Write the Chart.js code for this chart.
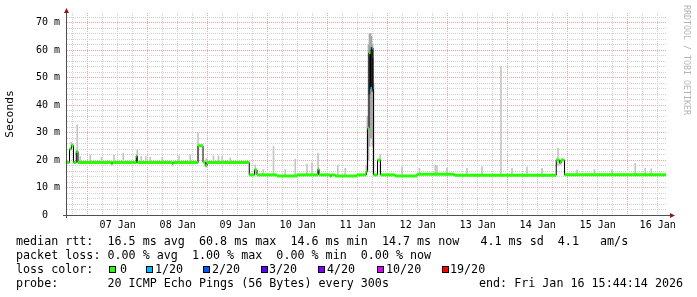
<!DOCTYPE html>
<html><head><meta charset="utf-8">
<script src="https://cdn.jsdelivr.net/npm/chart.js@4/dist/chart.umd.min.js"></script>
<style>
html,body{margin:0;padding:0;background:#fff;}
#wrap{position:relative;width:697px;height:297px;overflow:hidden;background:#fff;}
#c{position:absolute;left:0;top:0;}
.t{position:absolute;font-family:"DejaVu Sans Mono",monospace;font-size:11.7px;line-height:14px;white-space:pre;color:#000;}
.sq{position:absolute;width:5px;height:5px;border:1px solid #000;}
#rrd{position:absolute;left:682px;top:5px;writing-mode:vertical-rl;font-family:"DejaVu Sans Mono",monospace;font-size:8.3px;line-height:10px;color:#b4b4b4;white-space:pre;}
</style></head><body>
<div id="wrap">
<canvas id="c" width="697" height="297"></canvas>
<div id="rrd">RRDTOOL / TOBI OETIKER</div>
<div class="t" style="left:16px;top:234px">median rtt:  16.5 ms avg  60.8 ms max  14.6 ms min  14.7 ms now   4.1 ms sd  4.1   am/s</div>
<div class="t" style="left:16px;top:248px">packet loss: 0.00 % avg  1.00 % max  0.00 % min  0.00 % now</div>
<div class="t" style="left:16px;top:262px">loss color:</div>
<div id="losslegend"></div>
<div class="t" style="left:16px;top:276px">probe:       20 ICMP Echo Pings (56 Bytes) every 300s</div>
<div class="t" style="left:479px;top:276px">end: Fri Jan 16 15:44:14 2026</div>
</div>
<script>
// ---------- data (hours since Jan 6 15:44:14) ----------
const dayLabels = ['07 Jan','08 Jan','09 Jan','10 Jan','11 Jan','12 Jan','13 Jan','14 Jan','15 Jan','16 Jan'];
const firstGridHour = 2.2667; // Jan 6 18:00

// median rtt (ms) change points; value holds until next time
const medT = [0, 1.0, 1.8, 2.6, 3.7, 4.4, 17.8, 18.2, 27.7, 28.1, 42.1, 42.5, 52.4, 54.4, 55.3, 56.0,
  72.9, 75.0, 76.0, 84.0, 92.0, 100.4, 100.8, 105.3, 105.7, 107.3, 116.0, 119.7,
  120.2, 120.8, 121.4, 122.0, 122.4, 122.6, 124.2, 125.4, 131.3, 140.0, 155.0,
  195.7, 197.0, 197.6, 199.0, 239.6];
const medV = [19.1, 24.0, 25.3, 19.1, 23.1, 19.1, 18.6, 19.1, 21.5, 19.1, 18.6, 19.1, 25.2, 19.3, 17.9, 19.1,
  14.6, 16.4, 14.6, 14.2, 14.6, 16.7, 14.6, 14.1, 14.6, 14.2, 14.6, 15.8,
  31.6, 59.0, 46.0, 60.8, 45.6, 14.6, 20.0, 14.6, 14.2, 14.8, 14.5,
  20.0, 18.8, 20.0, 14.6, 14.6];
const medLoss = [0,0,0,0,0,0,0,0,0,0,0,0,0,0,0,0,
  0,0,0,0,0,0,0,0,0,0,0,0,
  0,0,1,1,0,0,0,0,0,0,0,
  0,0,0,0,0];

// smoke (ping spread) thin spikes
const smokeT  = [1.7, 4.1, 5.3, 9.3, 13.8, 18.8, 22.5, 28.1, 29.7, 31.5, 33.3, 38.1, 44.8, 49.3, 52.4, 55.7, 58.6, 60.6, 62.1, 65.3,
  75.3, 78.5, 82.6, 87.3, 91.3, 96.0, 98.0, 100.4, 108.3, 111.3, 119.7, 125.3, 134.0, 141.0, 147.3, 148.0, 152.0, 160.0, 166.0,
  173.6, 178.0, 184.0, 190.0, 196.4, 204.0, 211.0, 218.0, 227.3, 231.3, 233.7];
const smokeLo = [24, 19, 19, 19, 19, 19, 19, 19, 19, 19, 19, 19, 19, 19, 19, 18, 19, 19, 19, 19,
  14.6, 14.6, 14.6, 14.6, 14.6, 14.6, 14.6, 14.6, 14.6, 14.6, 14.6, 14.6, 14.6, 14.6, 14.6, 14.6, 14.6, 14.6, 14.6,
  14.6, 14.6, 14.6, 14.6, 18, 14.6, 14.6, 14.6, 14.6, 14.6, 14.6];
const smokeHi = [26.5, 32.8, 21.3, 21.9, 21.0, 21.8, 22.5, 23.7, 21.3, 21.2, 21.0, 21.0, 21.5, 21.9, 29.8, 20.5, 21.5, 21.5, 21.3, 20.8,
  18.2, 16.5, 24.9, 16.5, 20.3, 18.5, 19.0, 22.5, 18.2, 17.0, 18.0, 22.0, 17.5, 17.0, 18.2, 18.0, 17.0, 17.0, 17.5,
  54.0, 17.0, 17.5, 17.0, 24.3, 16.4, 16.5, 16.5, 18.8, 17.0, 16.8];

// 11 Jan burst: wide spread and dense core
const burstT  = [120.2, 120.6, 121.0, 121.4, 121.8, 122.2, 122.6];
const burstLo = [16, 20, 25, 28, 28, 25, 15];
const burstHi = [36, 62, 66, 66, 65, 62, 48];
const coreT  = [121.0, 121.4, 121.8, 122.2];
const coreLo = [44, 46, 46, 45];
const coreHi = [59, 60, 61, 57];

const lossLevels = [0, 1, 2, 3, 4, 10, 19];
const lossLabels = ['0', '1/20', '2/20', '3/20', '4/20', '10/20', '19/20'];
const lossColors = ['#26ff00', '#00b8ff', '#0059ff', '#5e00ff', '#7e00ff', '#dd00ff', '#ff0000'];

// ---------- legend squares ----------
const sqX = [109, 146, 203, 261, 318, 377, 442];
const lblX = [120, 155, 212, 269, 327, 386, 450];
const ll = document.getElementById('losslegend');
lossLabels.forEach((l, i) => {
  const s = document.createElement('div'); s.className = 'sq';
  s.style.left = sqX[i] + 'px'; s.style.top = '266px'; s.style.background = lossColors[i];
  ll.appendChild(s);
  const t = document.createElement('div'); t.className = 't';
  t.style.left = lblX[i] + 'px'; t.style.top = '262px'; t.textContent = l;
  ll.appendChild(t);
});

function lossColor(n) {
  let c = lossColors[0];
  lossLevels.forEach((lv, i) => { if (n >= lv) c = lossColors[i]; });
  return c;
}

// green runs (horizontal only)
const runPts = [];
for (let i = 0; i < medT.length - 1; i++) {
  runPts.push({x: medT[i], y: medV[i]}, {x: medT[i + 1], y: medV[i]}, {x: medT[i + 1], y: null});
}
const stepPts = medT.map((t, i) => ({x: t, y: medV[i]}));

const xTicks = [];
for (let v = firstGridHour; v <= 240; v += 6) xTicks.push(v);

const MINOR = 'rgba(208,208,208,1)';
const MAJOR = 'rgba(238,165,165,1)';
const MONO = 'DejaVu Sans Mono';

const axesPlugin = {
  id: 'rrdAxes',
  afterDatasetsDraw(chart) {
    const {ctx, chartArea: a} = chart;
    ctx.save();
    ctx.strokeStyle = '#505050';
    ctx.lineWidth = 1;
    ctx.beginPath();
    ctx.moveTo(a.left - 0.5, a.bottom + 3);
    ctx.lineTo(a.left - 0.5, a.top - 1);
    ctx.moveTo(a.left - 4, a.bottom + 0.5);
    ctx.lineTo(a.right + 4, a.bottom + 0.5);
    ctx.stroke();
    ctx.fillStyle = '#8b1a1a';
    ctx.beginPath();
    ctx.moveTo(a.left - 3, a.top);
    ctx.lineTo(a.left + 2, a.top);
    ctx.lineTo(a.left - 0.5, a.top - 5);
    ctx.closePath(); ctx.fill();
    ctx.beginPath();
    ctx.moveTo(a.right + 3, a.bottom - 2);
    ctx.lineTo(a.right + 3, a.bottom + 3);
    ctx.lineTo(a.right + 8, a.bottom + 0.5);
    ctx.closePath(); ctx.fill();
    ctx.restore();
  }
};

new Chart(document.getElementById('c'), {
  type: 'bar',
  data: {
    datasets: [
      {type: 'line', label: 'median', data: runPts, parsing: false, spanGaps: false, borderWidth: 3,
        borderCapStyle: 'butt', pointRadius: 0, order: 0, borderColor: lossColors[0],
        segment: {borderColor: c => lossColor(medLoss[Math.floor(c.p0DataIndex / 3)])}},
      {type: 'line', label: 'median step', data: stepPts, parsing: false, stepped: true, borderWidth: 1,
        borderColor: '#000', pointRadius: 0, order: 1},
      {label: 'core', data: coreT.map((t, i) => ({x: t, y: [coreLo[i], coreHi[i]]})), backgroundColor: '#444444',
        barThickness: 1, grouped: false, borderWidth: 0, order: 2},
      {label: 'burst', data: burstT.map((t, i) => ({x: t, y: [burstLo[i], burstHi[i]]})), backgroundColor: '#a8a8a8',
        barThickness: 1, grouped: false, borderWidth: 0, order: 3},
      {label: 'smoke', data: smokeT.map((t, i) => ({x: t, y: [smokeLo[i], smokeHi[i]]})), backgroundColor: '#c4c4c4',
        barThickness: 1, grouped: false, borderWidth: 0, order: 4}
    ]
  },
  options: {
    responsive: false, animation: false, devicePixelRatio: 1,
    layout: {padding: {left: 0, right: 30, top: 13, bottom: 0}},
    plugins: {legend: {display: false}, tooltip: {enabled: false}},
    scales: {
      x: {type: 'linear', min: 0, max: 240, offset: false,
        afterBuildTicks: s => { s.ticks = xTicks.map(v => ({value: v})); },
        ticks: {autoSkip: false, maxRotation: 0, padding: 4, color: '#000', font: {family: MONO, size: 10},
          callback: (v, i) => i % 4 === 3 ? dayLabels[(i - 3) / 4] : ''},
        grid: {drawTicks: false, offset: false, lineWidth: 1, color: c => (c.index % 4 === 1 ? MAJOR : MINOR)},
        border: {display: false, dash: [1, 1]},
        afterFit: s => { s.height = 82; }
      },
      y: {type: 'linear', min: 0, max: 73.5,
        ticks: {stepSize: 2, includeBounds: false, autoSkip: false, padding: 7, color: '#000', font: {family: MONO, size: 10},
          callback: v => (v % 10 === 0 ? (v === 0 ? '0  ' : v + ' m') : '')},
        grid: {drawTicks: false, lineWidth: 1, color: c => (c.tick && c.tick.value % 10 === 0 ? MAJOR : MINOR)},
        border: {display: false, dash: [1, 1]},
        title: {display: true, text: 'Seconds', color: '#000', font: {family: MONO, size: 11.3}, padding: {top: 3, bottom: 0}},
        afterFit: s => { s.width = 67; }
      }
    }
  },
  plugins: [axesPlugin]
});
</script>
</body></html>
